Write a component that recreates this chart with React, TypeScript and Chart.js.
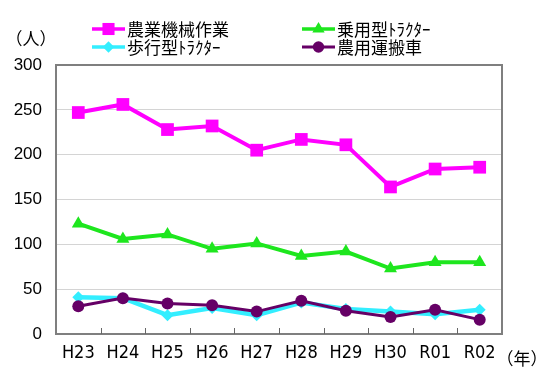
import React, { useEffect, useRef } from 'react';
import { Chart, registerables } from 'chart.js';

Chart.register(...registerables);

const categories = ['H23', 'H24', 'H25', 'H26', 'H27', 'H28', 'H29', 'H30', 'R01', 'R02'];
const farmWork = [247, 256, 228, 232, 205, 217, 211, 164, 184, 186];
const ridingTractor = [123, 106, 111, 95, 101, 87, 92, 73, 80, 80];
const walkingTractor = [41, 40, 21, 29, 21, 35, 28, 25, 22, 27];
const transportVehicle = [31, 40, 34, 32, 25, 37, 26, 19, 27, 16];
const seriesLabels = ['農業機械作業', '乗用型ﾄﾗｸﾀｰ', '歩行型ﾄﾗｸﾀｰ', '農用運搬車'];
const yUnit = '（人）';
const xUnit = '（年）';
const yMin = 0;
const yMax = 300;
const yStep = 50;

const JP = '"Noto Sans CJK JP", sans-serif';

function drawMarker(ctx: CanvasRenderingContext2D, style: string, r: number, x: number, y: number, color: string) {
  ctx.save();
  ctx.fillStyle = color;
  ctx.beginPath();
  if (style === 'rect') {
    const s = Math.SQRT1_2 * r;
    ctx.rect(x - s, y - s, 2 * s, 2 * s);
  } else if (style === 'triangle') {
    ctx.moveTo(x, y - r);
    ctx.lineTo(x + r * 0.866, y + r * 0.5);
    ctx.lineTo(x - r * 0.866, y + r * 0.5);
    ctx.closePath();
  } else if (style === 'rectRot') {
    ctx.moveTo(x - r, y);
    ctx.lineTo(x, y - r);
    ctx.lineTo(x + r, y);
    ctx.lineTo(x, y + r);
    ctx.closePath();
  } else {
    ctx.arc(x, y, r, 0, Math.PI * 2);
  }
  ctx.fill();
  ctx.restore();
}

const decorPlugin = {
  id: 'decor',
  beforeDatasetsDraw(chart: any) {
    const { ctx, chartArea } = chart;
    const x = chart.scales.x;
    ctx.save();
    ctx.strokeStyle = '#7f7f7f';
    ctx.lineWidth = 2;
    ctx.strokeRect(chartArea.left, chartArea.top, chartArea.right - chartArea.left, chartArea.bottom - chartArea.top);
    ctx.lineWidth = 1;
    ctx.strokeStyle = '#666';
    for (let i = 1; i < categories.length; i++) {
      const px = Math.round(x.getPixelForValue(i - 0.5)) + 0.5;
      ctx.beginPath();
      ctx.moveTo(px, chartArea.bottom);
      ctx.lineTo(px, chartArea.bottom - 6);
      ctx.stroke();
    }
    ctx.restore();
  },
  afterDraw(chart: any) {
    const { ctx } = chart;
    ctx.save();
    ctx.fillStyle = '#000';
    ctx.textBaseline = 'middle';
    ctx.textAlign = 'center';
    ctx.font = '17px ' + JP;
    ctx.fillText(yUnit, 31, 39);
    ctx.fillText(xUnit, 522, 359);

    const pos = [
      [92, 29],
      [302, 29],
      [92, 47],
      [302, 47],
    ];
    chart.data.datasets.forEach((ds: any, i: number) => {
      const [lx, ly] = pos[i];
      ctx.strokeStyle = ds.borderColor;
      ctx.lineWidth = Math.min(ds.borderWidth, 3.5);
      ctx.beginPath();
      ctx.moveTo(lx, ly);
      ctx.lineTo(lx + 33, ly);
      ctx.stroke();
      drawMarker(ctx, ds.pointStyle, ds.pointRadius * 0.95, lx + 16.5, ly, ds.backgroundColor);
      ctx.fillStyle = '#000';
      ctx.textAlign = 'left';
      ctx.font = '17px ' + JP;
      ctx.fillText(ds.label, lx + 35, ly + 1);
    });
    ctx.restore();
  },
};

export default function App() {
  const ref = useRef<HTMLCanvasElement>(null);
  useEffect(() => {
    if (!ref.current) return;
    const mk = (label: string, data: number[], color: string, style: string, radius: number, width: number, order: number) => ({
      label,
      data,
      borderColor: color,
      backgroundColor: color,
      pointBackgroundColor: color,
      pointBorderColor: color,
      pointStyle: style,
      pointRadius: radius,
      pointBorderWidth: 0,
      borderWidth: width,
      tension: 0,
      order,
    });
    const chart = new Chart(ref.current, {
      type: 'line',
      data: {
        labels: categories,
        datasets: [
          mk(seriesLabels[0], farmWork, '#ff00ff', 'rect', 9, 4, 3),
          mk(seriesLabels[1], ridingTractor, '#1ee61e', 'triangle', 7.5, 4, 2),
          mk(seriesLabels[2], walkingTractor, '#33eeff', 'rectRot', 6, 4.5, 1),
          mk(seriesLabels[3], transportVehicle, '#660066', 'circle', 6, 3, 0),
        ] as any,
      },
      options: {
        responsive: false,
        animation: false,
        layout: { padding: { top: 65, right: 48, left: 0, bottom: 0 } },
        plugins: { legend: { display: false }, tooltip: { enabled: false } },
        scales: {
          x: {
            offset: true,
            grid: { display: false, drawTicks: false },
            border: { display: false },
            ticks: {
              color: '#000',
              padding: 9,
              font: { family: '"DejaVu Sans Condensed", "Liberation Sans Narrow", sans-serif', size: 18 },
              maxRotation: 0,
            },
            afterFit(scale: any) {
              scale.height = 50;
            },
          },
          y: {
            min: yMin,
            max: yMax,
            grid: { color: '#d4d4d4', drawTicks: false, lineWidth: 1 },
            border: { display: false },
            ticks: {
              stepSize: yStep,
              color: '#000',
              padding: 14,
              font: { family: '"Liberation Sans", sans-serif', size: 17 },
            },
            afterFit(scale: any) {
              scale.width = 56;
            },
          },
        },
      } as any,
      plugins: [decorPlugin],
    });
    return () => chart.destroy();
  }, []);
  return (
    <div style={{ position: 'absolute', left: 0, top: 0, width: 550, height: 384, background: '#fff' }}>
      <canvas ref={ref} width={550} height={384} />
    </div>
  );
}
